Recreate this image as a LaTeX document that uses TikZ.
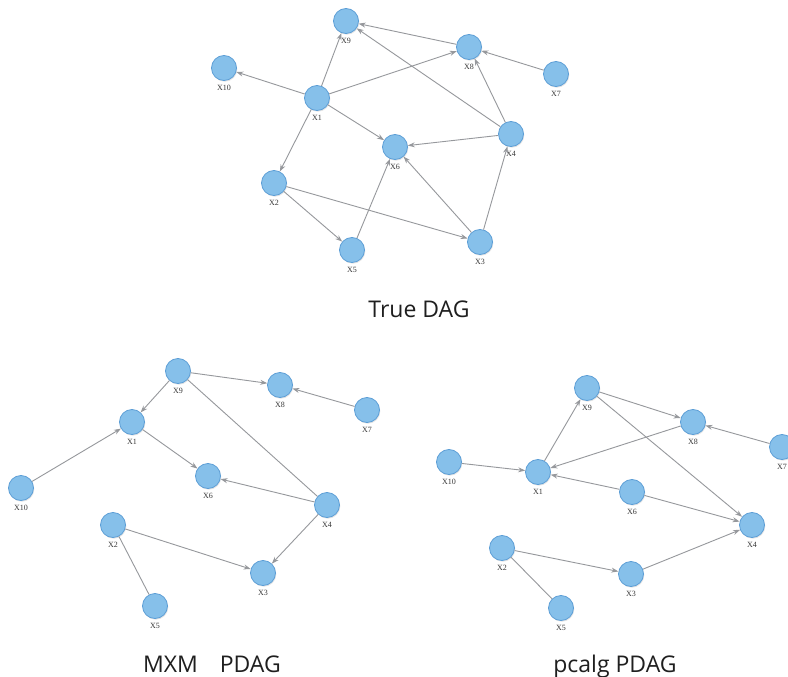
\documentclass[tikz,border=0pt]{standalone}
\usepackage{fontspec}
\setmainfont{Liberation Serif}
\newfontfamily\titlefont{Open Sans}
\usetikzlibrary{arrows.meta,shadows}

\definecolor{nodefill}{RGB}{134,192,234}
\definecolor{nodeedge}{RGB}{92,158,214}
\definecolor{edgegray}{RGB}{150,152,156}
\definecolor{labelgray}{RGB}{55,55,55}

\tikzset{
  var/.style={circle, minimum size=25pt, inner sep=0pt,
    fill=nodefill, draw=nodeedge, line width=0.8pt,
    drop shadow={opacity=0.2, shadow xshift=0.8pt, shadow yshift=-1.2pt},
    label={[varlabel]below:#1}},
  varlabel/.style={label distance=4pt, inner sep=0.5pt,
    font=\fontsize{8}{9}\selectfont, text=labelgray},
  arr/.style={draw=edgegray, line width=0.9pt, -{Stealth[length=7pt,width=5pt]}},
  und/.style={draw=edgegray, line width=0.9pt},
  title/.style={anchor=base, inner sep=0pt,
    font=\titlefont\fontsize{23}{26}\selectfont, text=black!88}
}

\begin{document}
\begin{tikzpicture}[x=1pt, y=-1pt]
\useasboundingbox (0,0) rectangle (788,677);
\fill[white] (0,0) rectangle (788,677);

% ---------- True DAG ----------
\node[var=X9]  (t9)  at (346,21)  {};
\node[var=X8]  (t8)  at (469,47)  {};
\node[var=X10] (t10) at (224,68)  {};
\node[var=X7]  (t7)  at (556,74)  {};
\node[var=X1]  (t1)  at (317,98)  {};
\node[var=X4]  (t4)  at (511,134) {};
\node[var=X6]  (t6)  at (395,147) {};
\node[var=X2]  (t2)  at (274,183) {};
\node[var=X5]  (t5)  at (352,250) {};
\node[var=X3]  (t3)  at (480,242) {};

\draw[arr] (t1) -- (t10);
\draw[arr] (t1) -- (t9);
\draw[arr] (t1) -- (t8);
\draw[arr] (t1) -- (t6);
\draw[arr] (t1) -- (t2);
\draw[arr] (t8) -- (t9);
\draw[arr] (t7) -- (t8);
\draw[arr] (t4) -- (t9);
\draw[arr] (t4) -- (t8);
\draw[arr] (t4) -- (t6);
\draw[arr] (t3) -- (t4);
\draw[arr] (t3) -- (t6);
\draw[arr] (t5) -- (t6);
\draw[arr] (t2) -- (t5);
\draw[arr] (t2) -- (t3);

\node[title] (ttrue) at (419,317) {True DAG};

% ---------- MXM PDAG ----------
\node[var=X9]  (m9)  at (178,371) {};
\node[var=X8]  (m8)  at (280,385) {};
\node[var=X7]  (m7)  at (367,410) {};
\node[var=X1]  (m1)  at (132,422) {};
\node[var=X10] (m10) at (21,488)  {};
\node[var=X6]  (m6)  at (208,476) {};
\node[var=X4]  (m4)  at (327,505) {};
\node[var=X2]  (m2)  at (113,525) {};
\node[var=X3]  (m3)  at (263,573) {};
\node[var=X5]  (m5)  at (155,606) {};

\draw[arr] (m9) -- (m8);
\draw[arr] (m7) -- (m8);
\draw[arr] (m9) -- (m1);
\draw[arr] (m10) -- (m1);
\draw[arr] (m1) -- (m6);
\draw[arr] (m4) -- (m6);
\draw[und] (m4) -- (m9);
\draw[arr] (m4) -- (m3);
\draw[arr] (m2) -- (m3);
\draw[und] (m2) -- (m5);

\node[title] (tmxm) at (212,672) {MXM\hspace{0.95em}PDAG};

% ---------- pcalg PDAG ----------
\node[var=X9]  (p9)  at (587,388) {};
\node[var=X8]  (p8)  at (693,422) {};
\node[var=X7]  (p7)  at (782,447) {};
\node[var=X10] (p10) at (449,462) {};
\node[var=X1]  (p1)  at (538,472) {};
\node[var=X6]  (p6)  at (632,492) {};
\node[var=X4]  (p4)  at (752,525) {};
\node[var=X2]  (p2)  at (502,548) {};
\node[var=X3]  (p3)  at (631,574) {};
\node[var=X5]  (p5)  at (561,608) {};

\draw[arr] (p1) -- (p9);
\draw[arr] (p9) -- (p8);
\draw[arr] (p9) -- (p4);
\draw[arr] (p8) -- (p1);
\draw[arr] (p7) -- (p8);
\draw[arr] (p10) -- (p1);
\draw[arr] (p6) -- (p1);
\draw[arr] (p6) -- (p4);
\draw[arr] (p2) -- (p3);
\draw[arr] (p3) -- (p4);
\draw[und] (p2) -- (p5);

\node[title] (tpcalg) at (615,672) {pcalg PDAG};
\end{tikzpicture}
\end{document}
